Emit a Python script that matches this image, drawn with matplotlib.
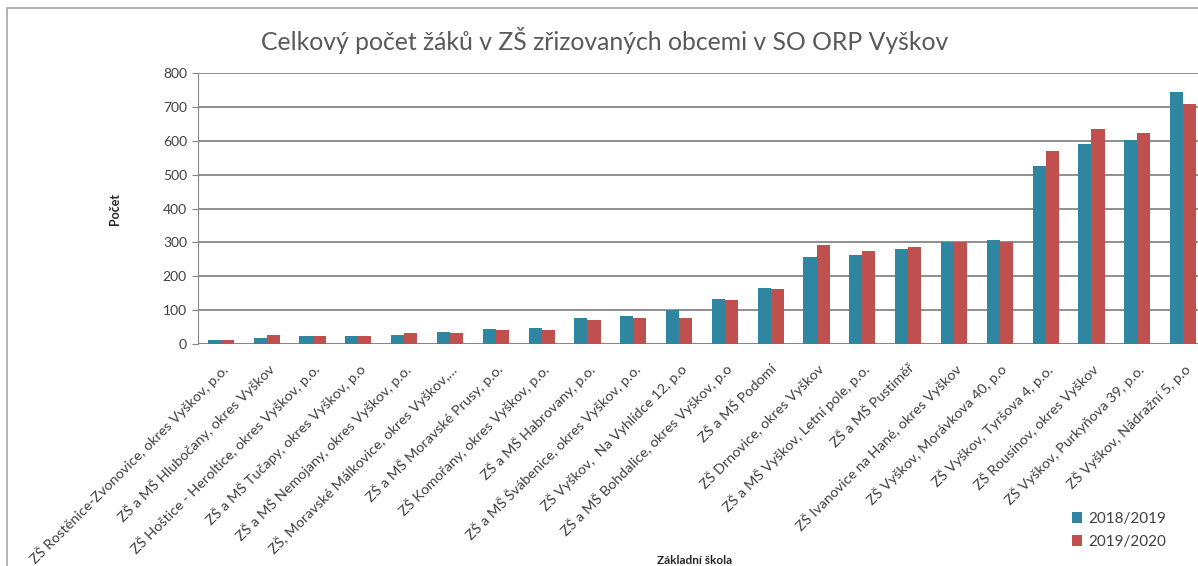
import matplotlib
matplotlib.use("Agg")
import matplotlib.pyplot as plt
import numpy as np
from matplotlib.patches import Rectangle

categories = [
    "ZŠ Rostěnice-Zvonovice, okres Vyškov, p.o.",
    "ZŠ a MŠ Hlubočany, okres Vyškov",
    "ZŠ Hoštice - Heroltice, okres Vyškov, p.o.",
    "ZŠ a MŠ Tučapy, okres Vyškov, p.o",
    "ZŠ a MŠ Nemojany, okres Vyškov, p.o.",
    "ZŠ, Moravské Málkovice, okres Vyškov,…",
    "ZŠ a MŠ Moravské Prusy, p.o.",
    "ZŠ Komořany, okres Vyškov, p.o.",
    "ZŠ a MŠ Habrovany, p.o.",
    "ZŠ a MŠ Švábenice, okres Vyškov, p.o.",
    "ZŠ Vyškov,  Na Vyhlídce 12, p.o",
    "ZŠ a MŠ Bohdalice, okres Vyškov, p.o",
    "ZŠ a MŠ Podomí",
    "ZŠ Drnovice, okres Vyškov",
    "ZŠ a MŠ Vyškov, Letní pole, p.o.",
    "ZŠ a MŠ Pustiměř",
    "ZŠ Ivanovice na Hané, okres Vyškov",
    "ZŠ Vyškov, Morávkova 40, p.o",
    "ZŠ Vyškov, Tyršova 4, p.o.",
    "ZŠ Rousínov, okres Vyškov",
    "ZŠ Vyškov, Purkyňova 39, p.o.",
    "ZŠ Vyškov, Nádražní 5, p.o",
]
values_2018 = [12, 19, 23, 24, 27, 36, 43, 46, 76, 83, 100, 132, 166, 256, 263, 280, 301, 308, 524, 590, 603, 745]
values_2019 = [12, 27, 25, 24, 31, 31, 42, 42, 72, 77, 76, 130, 162, 291, 275, 287, 301, 301, 571, 636, 622, 708]
series_labels = ["2018/2019", "2019/2020"]
yticks = [0, 100, 200, 300, 400, 500, 600, 700, 800]

FONT = ["Lato", "DejaVu Sans"]
plt.rcParams['font.family'] = FONT

W, H = 1198, 566
fig = plt.figure(figsize=(W / 100, H / 100), dpi=100)
fig.patch.set_facecolor("white")

# chart frame
fig.patches.append(Rectangle((7 / W, -0.05), 1.1, 1 - 8 / H + 0.05, transform=fig.transFigure,
                             fill=False, edgecolor="#A6A6A6", linewidth=1.2))

left, right = 198 / W, 1206 / W
bottom, top = (H - 344) / H, (H - 73) / H
ax = fig.add_axes([left, bottom, right - left, top - bottom])

x = np.arange(len(categories))
bw = 0.285
c1, c2 = "#2E86A0", "#C0504D"
ax.bar(x - bw / 2, values_2018, bw, color=c1, label=series_labels[0])
ax.bar(x + bw / 2, values_2019, bw, color=c2, label=series_labels[1])

ax.set_xlim(-0.5, len(categories) - 0.5)
ax.set_ylim(0, 800)
ax.set_yticks(yticks)
ax.yaxis.grid(True, color="#868686", linewidth=1.3)
ax.set_axisbelow(True)
for s in ["top", "right", "bottom"]:
    ax.spines[s].set_visible(False)
ax.spines["left"].set_color("#868686")
ax.axhline(0, color="#868686", linewidth=1.3, zorder=0.5)
ax.tick_params(axis="y", colors="#868686", labelcolor="#404040", labelsize=10, length=4, pad=4)
ax.set_xticks(x)
ax.set_xticklabels(categories, rotation=45, ha="right", va="top", rotation_mode="anchor",
                   fontsize=10.4, color="#404040")
ax.tick_params(axis="x", length=0, pad=13)

ax.set_ylabel("Počet", fontsize=9, fontweight="bold", color="#262626", labelpad=30)
fig.text(695 / W, 1 - 560 / H, "Základní škola", fontsize=8.5, fontweight="bold",
         color="#262626", ha="center", va="center")
fig.text(605 / W, 1 - 40 / H, "Celkový počet žáků v ZŠ zřizovaných obcemi v SO ORP Vyškov",
         fontsize=17.8, color="#595959", ha="center", va="center")

leg = fig.legend(loc="upper left", bbox_to_anchor=(1058 / W, 1 - 498 / H), frameon=False,
                 fontsize=11, handlelength=0.7, handleheight=0.7, handletextpad=0.4,
                 labelspacing=0.6, labelcolor="#404040")

fig.savefig("out.png", dpi=100)
